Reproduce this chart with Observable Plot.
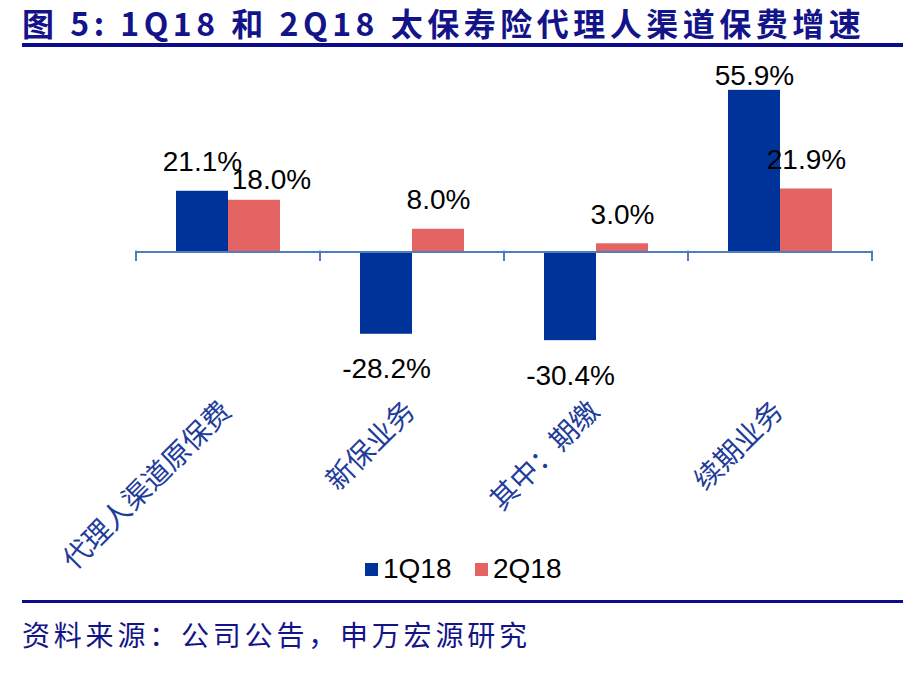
<!DOCTYPE html>
<html><head><meta charset="utf-8">
<script src="https://cdn.jsdelivr.net/npm/d3@7"></script>
<script src="https://cdn.jsdelivr.net/npm/@observablehq/plot@0.6"></script>
<style>
body{margin:0;background:#fff;}
#wrap{position:relative;width:920px;height:674px;overflow:hidden;background:#fff;}
#title{position:absolute;left:22px;top:0px;font-family:"Noto Sans CJK SC";font-weight:700;font-size:32px;line-height:44px;color:#14148a;letter-spacing:4.5px;white-space:nowrap;}
.rule{position:absolute;left:22px;width:881px;background:#0c0c8c;}
#chart{position:absolute;left:0;top:50px;}
#legend{position:absolute;left:0;top:550px;}
#source{position:absolute;left:22px;top:614px;font-family:"Noto Sans CJK SC";font-size:28px;line-height:40px;color:#14148a;letter-spacing:3.8px;white-space:nowrap;}
</style></head><body>
<div id="wrap">
 <div id="title">图 5: 1Q18 和 2Q18 太保寿险代理人渠道保费增速</div>
 <div class="rule" style="top:43px;height:4px"></div>
 <div id="chart"></div>
 <svg id="legend" width="920" height="40"></svg>
 <div class="rule" style="top:600px;height:3px"></div>
 <div id="source">资料来源：公司公告，申万宏源研究</div>
</div>
<script>
const categories = ["代理人渠道原保费", "新保业务", "其中：期缴", "续期业务"];
const seriesNames = ["1Q18", "2Q18"];
const q1Values = [21.1, -28.2, -30.4, 55.9];
const q2Values = [18.0, 8.0, 3.0, 21.9];
const seriesColors = ["#003399", "#e46464"];

const rows = categories.flatMap((c, i) => [
  {cat: c, s: seriesNames[0], v: q1Values[i], other: q2Values[i]},
  {cat: c, s: seriesNames[1], v: q2Values[i], other: q1Values[i]}
]);

const H = 540, mTop = 12, mBottom = 222;
const yDomain = [-40, 65.5];
const k = (H - mTop - mBottom) / (yDomain[1] - yDomain[0]); // px per unit
const fmt = v => v.toFixed(1) + "%";

// a second-series positive label is "crowded" when its neighbour's label sits at nearly the same height
const crowded = d => d.s === seriesNames[1] && d.v >= 0 && d.other >= 0 && Math.abs(d.v - d.other) * k < 22;
const posLabels = rows.filter(d => d.v >= 0 && !crowded(d));
const crowdedLabels = rows.filter(crowded);
const negLabels = rows.filter(d => d.v < 0);

const plot = Plot.plot({
  width: 920, height: H,
  marginLeft: 135, marginRight: 47, marginTop: mTop, marginBottom: mBottom,
  style: {fontFamily: "'Liberation Sans', Arial, sans-serif", background: "transparent", overflow: "visible"},
  fx: {domain: categories, padding: 0, axis: null},
  x: {domain: seriesNames, paddingInner: 0, paddingOuter: 0.74, axis: null},
  y: {domain: yDomain, axis: null},
  color: {domain: seriesNames, range: seriesColors},
  marks: [
    Plot.barY(rows, {fx: "cat", x: "s", y: "v", fill: "s"}),
    Plot.ruleY([0], {stroke: "#4f7fbd", strokeWidth: 2, dy: -0.5}),
    Plot.text(posLabels, {
      fx: "cat", x: "s",
      y: d => Math.min(d.v + 20 / k, yDomain[1] - 22 / k),
      text: d => fmt(d.v), lineAnchor: "bottom", fontSize: 28, fill: "#000"
    }),
    Plot.text(crowdedLabels, {
      fx: "cat", x: "s",
      y: d => d.v + 11 / k, dx: 17,
      text: d => fmt(d.v), lineAnchor: "bottom", fontSize: 28, fill: "#000"
    }),
    Plot.text(negLabels, {
      fx: "cat", x: "s",
      y: d => d.v - 24 / k,
      text: d => fmt(d.v), lineAnchor: "top", fontSize: 28, fill: "#000"
    }),
    Plot.text(categories, {
      fx: d => d, text: d => d, frameAnchor: "bottom",
      rotate: -45, textAnchor: "end", lineAnchor: "middle",
      dx: -2, dy: 38, fontSize: 28, fontFamily: "Noto Sans CJK SC", fill: "#1e3c9c"
    })
  ]
});
document.getElementById("chart").appendChild(plot);

// category boundary ticks from the plot's own scales
const fxs = plot.scale("fx"), ys = plot.scale("y");
const edges = categories.map(c => fxs.apply(c)).concat([fxs.apply(categories[categories.length - 1]) + fxs.bandwidth]);
const y0 = ys.apply(0);
d3.select(plot).append("g").selectAll("line").data(edges).join("line")
  .attr("x1", d => d).attr("x2", d => d)
  .attr("y1", y0 - 1.5).attr("y2", y0 + 9)
  .attr("stroke", "#4f7fbd").attr("stroke-width", 2);

// legend
const lg = d3.select("#legend");
const legendX = [365, 475];
seriesNames.forEach((s, i) => {
  lg.append("rect").attr("x", legendX[i]).attr("y", 13).attr("width", 13).attr("height", 13).attr("fill", seriesColors[i]);
  lg.append("text").attr("x", legendX[i] + 18).attr("y", 27.5).text(s)
    .attr("font-family", "'Liberation Sans', Arial, sans-serif").attr("font-size", 28).attr("fill", "#000");
});
</script>
</body></html>
